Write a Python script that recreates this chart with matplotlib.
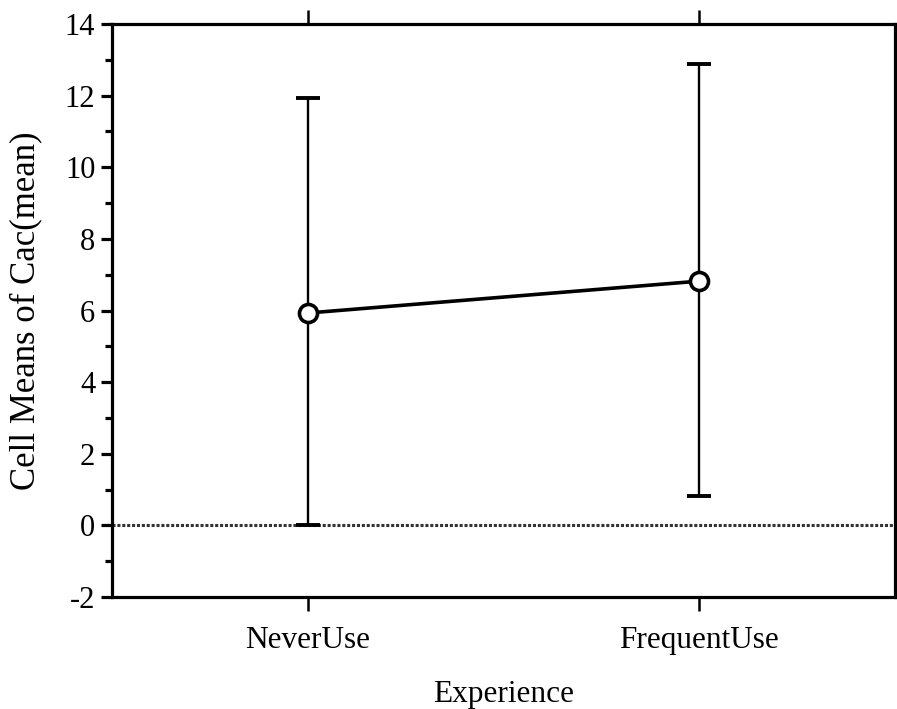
import matplotlib
matplotlib.use("Agg")
import matplotlib.pyplot as plt
import numpy as np

categories = ["NeverUse", "FrequentUse"]
cell_means = [5.93, 6.82]
upper_bounds = [11.92, 12.87]
lower_bounds = [0.0, 0.82]
y_ticks = [-2, 0, 2, 4, 6, 8, 10, 12, 14]

plt.rcParams['font.family'] = ['Liberation Serif', 'DejaVu Serif']

fig = plt.figure(figsize=(8.97, 7.09), dpi=100)
ax = fig.add_axes([112/897, 1-597/709, (895-112)/897, (597-24)/709])

x = np.arange(len(categories))
means = np.array(cell_means)
yerr = np.vstack([means - np.array(lower_bounds), np.array(upper_bounds) - means])

ax.axhline(0, color='#333333', lw=2.2, ls=(0, (1, 0.6)), zorder=1)
ax.errorbar(x, means, yerr=yerr, fmt='none', ecolor='black', elinewidth=1.7,
            capsize=8.5, capthick=2.8, zorder=2)
ax.plot(x, means, color='black', lw=2.6, zorder=3)
ax.plot(x, means, 'o', ms=13, mfc='white', mec='black', mew=2.6, zorder=4)

ax.set_xlim(-0.5, 1.5)
ax.set_ylim(-2, 14)
ax.set_yticks(y_ticks)
ax.set_yticklabels([str(t) for t in y_ticks])
ax.set_yticks(np.arange(-1, 14, 2), minor=True)
ax.set_xticks(x)
ax.set_xticklabels(categories)

for s in ax.spines.values():
    s.set_linewidth(2.3)

ax.tick_params(axis='y', which='major', direction='out', length=8, width=2.3,
               labelsize=22, pad=4)
ax.tick_params(axis='y', which='minor', direction='out', length=5, width=2.3)
ax.tick_params(axis='x', which='major', direction='out', length=10, width=1.8,
               labelsize=22.5, pad=11, top=True)

ax.set_xlabel("Experience", fontsize=22.5, labelpad=18)
ax.set_ylabel("Cell Means of Cac(mean)", fontsize=25, labelpad=16)

fig.savefig("out.png", dpi=100)
